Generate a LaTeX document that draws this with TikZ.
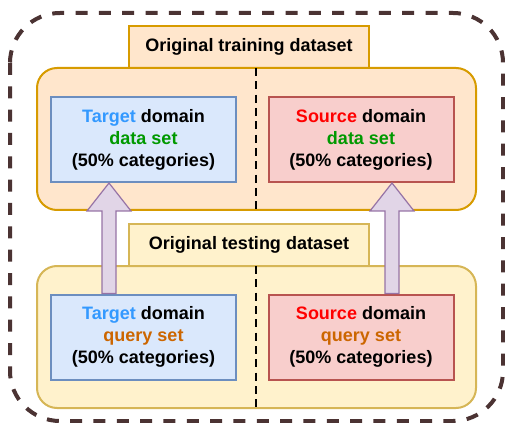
\documentclass[tikz,border=0pt]{standalone}
\usepackage{fontspec}
\setmainfont{Liberation Sans}
\usetikzlibrary{calc}

\definecolor{outerbrown}{HTML}{4B3333}
\definecolor{trainfill}{HTML}{FFE6CC}
\definecolor{traindraw}{HTML}{D79B00}
\definecolor{testfill}{HTML}{FFF2CC}
\definecolor{testdraw}{HTML}{D6B656}
\definecolor{bluefill}{HTML}{DAE8FC}
\definecolor{bluedraw}{HTML}{6C8EBF}
\definecolor{redfill}{HTML}{F8CECC}
\definecolor{reddraw}{HTML}{B85450}
\definecolor{arrowfill}{HTML}{E1D5E7}
\definecolor{arrowdraw}{HTML}{9673A6}
\definecolor{tgtblue}{HTML}{3399FF}
\definecolor{srcred}{HTML}{FF0000}
\definecolor{dsgreen}{HTML}{009900}
\definecolor{qsorange}{HTML}{CC6600}

\tikzset{
  lbl/.style={font=\fontsize{13.5}{16.5}\selectfont\bfseries, align=center},
  tab/.style={lbl, draw, line width=1.5pt, minimum width=180pt, minimum height=31.5pt, inner sep=0pt},
  setbox/.style={lbl, draw, line width=1.5pt, minimum width=138.75pt, minimum height=63.75pt, inner sep=0pt},
  divline/.style={line width=1.9pt, dash pattern=on 6pt off 4pt},
  blockarrow/.style={fill=arrowfill, draw=arrowdraw, line width=0.9pt, line join=miter}
}

\begin{document}
\begin{tikzpicture}[x=0.75pt,y=0.75pt,yscale=-1,xscale=1]
\useasboundingbox (0,0) rectangle (505,423);

%Shape: Rounded Rect [outer frame]
\draw [outerbrown, line width=3pt, dash pattern=on 9pt off 8.5pt, rounded corners=37.5pt] (10,13) rectangle (503,421);

% Text Node
\draw (249,47) node [tab, fill=trainfill, draw=traindraw] (trtab) {Original training dataset};
%Shape: Rounded Rect [training]
\draw [fill=trainfill, draw=traindraw, line width=1.5pt, rounded corners=15pt] (37,68) rectangle (476,210);
%Straight Lines
\draw [divline] (256,68) -- (256,210);

% Text Node
\draw (249,245) node [tab, fill=testfill, draw=testdraw] (tetab) {Original testing dataset};
%Shape: Rounded Rect [testing]
\draw [fill=testfill, draw=testdraw, line width=1.5pt, rounded corners=15pt] (37,266) rectangle (476,408);
%Straight Lines
\draw [divline] (256,266) -- (256,408);

% Text Node
\draw (143.5,139.5) node [setbox, fill=bluefill, draw=bluedraw] (tdata) {\textcolor{tgtblue}{Target} domain\\\textcolor{dsgreen}{data set}\\(50\% categories)};
% Text Node
\draw (361,139.5) node [setbox, fill=redfill, draw=reddraw] (sdata) {\textcolor{srcred}{Source} domain\\\textcolor{dsgreen}{data set}\\(50\% categories)};
% Text Node
\draw (143.5,337) node [setbox, fill=bluefill, draw=bluedraw] (tquery) {\textcolor{tgtblue}{Target} domain\\\textcolor{qsorange}{query set}\\(50\% categories)};
% Text Node
\draw (361,337) node [setbox, fill=redfill, draw=reddraw] (squery) {\textcolor{srcred}{Source} domain\\\textcolor{qsorange}{query set}\\(50\% categories)};

%Shape: Up Arrow
\coordinate (la) at (109,0);
\coordinate (ra) at (392,0);
\draw [blockarrow] ($(tquery.north -| la)+(-7,0)$) -- ($(tdata.south -| la)+(-7,28)$) -- ($(tdata.south -| la)+(-22,28)$) -- (tdata.south -| la) -- ($(tdata.south -| la)+(22,28)$) -- ($(tdata.south -| la)+(7,28)$) -- ($(tquery.north -| la)+(7,0)$) -- cycle;
%Shape: Up Arrow
\draw [blockarrow] ($(squery.north -| ra)+(-7,0)$) -- ($(sdata.south -| ra)+(-7,28)$) -- ($(sdata.south -| ra)+(-22,28)$) -- (sdata.south -| ra) -- ($(sdata.south -| ra)+(22,28)$) -- ($(sdata.south -| ra)+(7,28)$) -- ($(squery.north -| ra)+(7,0)$) -- cycle;

\end{tikzpicture}
\end{document}
